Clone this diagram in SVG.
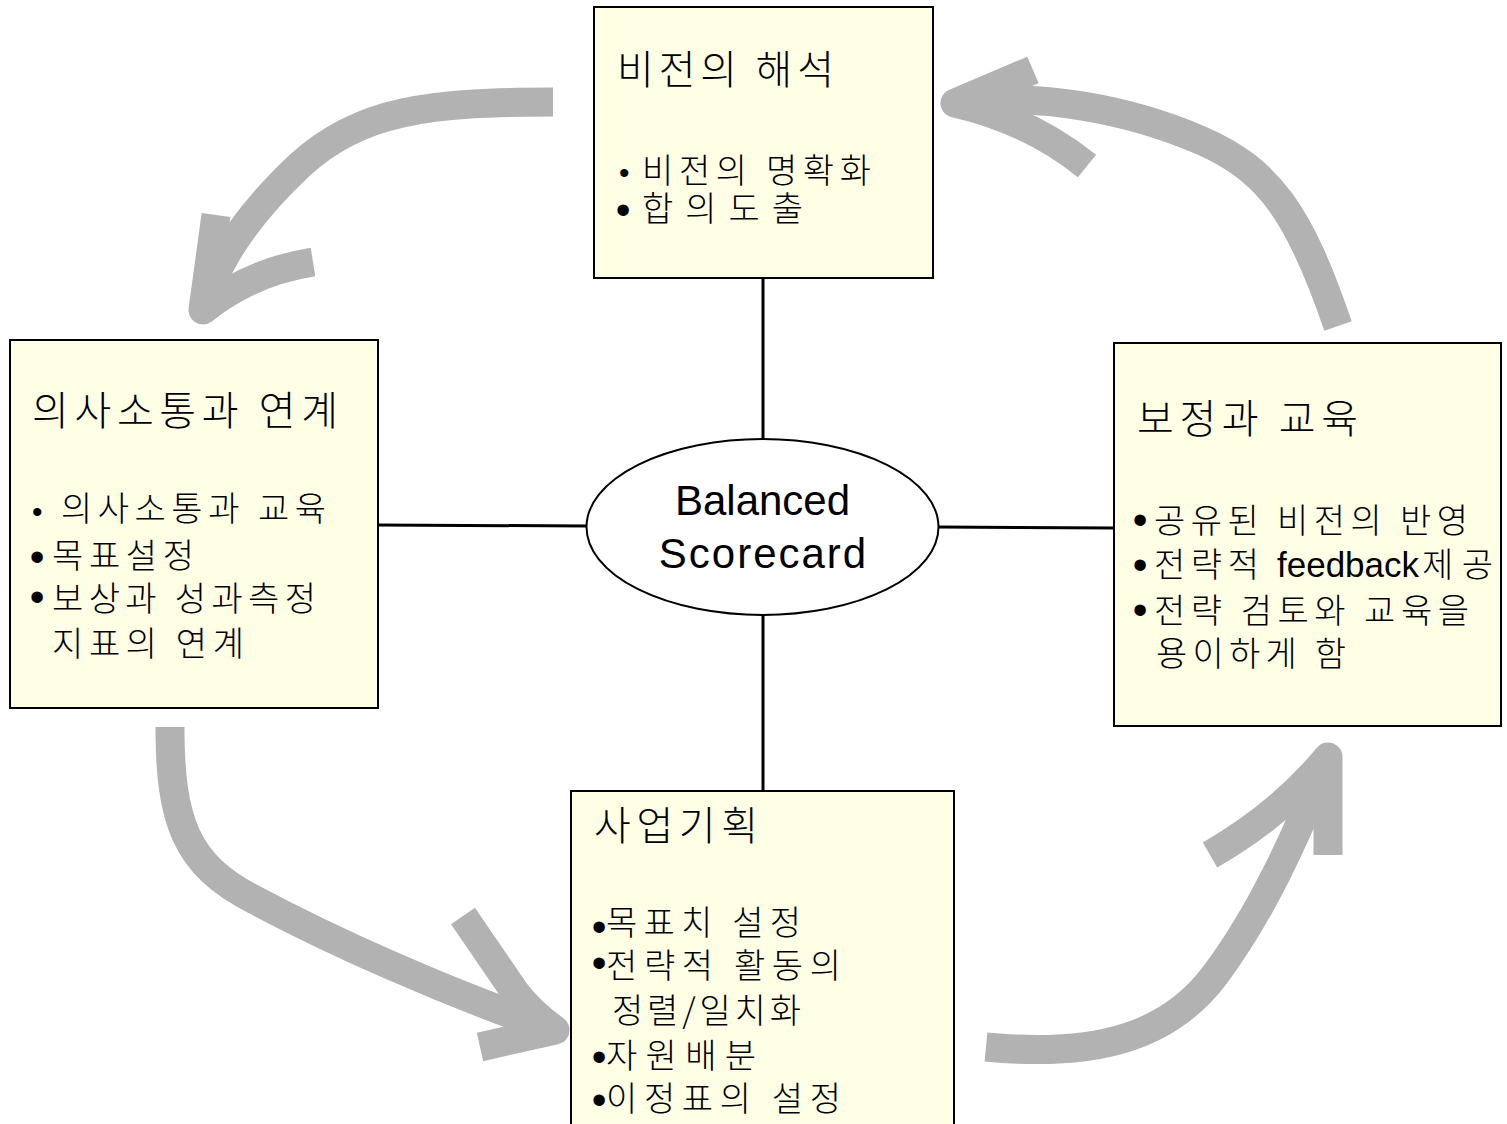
<svg xmlns="http://www.w3.org/2000/svg" width="1507" height="1124" viewBox="0 0 1507 1124">
  <defs>
    <style>
      .box { fill: #FFFFE6; stroke: #000; stroke-width: 2; }
      .link { stroke: #000; stroke-width: 3; fill: none; }
      .flow { fill: none; stroke: #B2B2B2; stroke-width: 29; stroke-linejoin: round; stroke-linecap: butt; }
      .ko { font-family: "Noto Sans CJK KR", "Noto Sans", sans-serif; font-weight: 300; fill: #000; }
      .title { font-size: 40px; }
      .body { font-size: 34px; }
      .bul { font-family: "Liberation Sans", Arial, sans-serif; font-weight: normal; font-size: 42px; }
      .bs { font-size: 30px; }
      .lat { font-family: "Liberation Sans", Arial, sans-serif; font-weight: normal; font-size: 35px; }
      .bsc { font-family: "Liberation Sans", Arial, sans-serif; font-size: 42px; fill: #000; text-anchor: middle; }
    </style>
  </defs>

  <rect x="0" y="0" width="1507" height="1124" fill="#fff"/>

  <g id="connectors">
    <!-- spokes from the hub to each box -->
    <line class="link" x1="763" y1="278" x2="763" y2="440"/>
    <line class="link" x1="763" y1="614" x2="763" y2="792"/>
    <line class="link" x1="378" y1="525" x2="587" y2="526"/>
    <line class="link" x1="938" y1="527" x2="1114" y2="528"/>

    <!-- cycle arrows -->
    <g id="flow-vision-to-communication">
      <path class="flow" d="M553,102 C430,102 360,110 300,165 C250,212 215,260 203,310"/>
      <path class="flow" d="M216,215 L203,310 Q250,272 313,262"/>
    </g>
    <g id="flow-communication-to-planning">
      <path class="flow" d="M170,727 C170,820 185,865 255,900 C330,940 440,990 555,1030"/>
      <path class="flow" d="M463,916 L515,992 Q530,1012 555,1030 L480,1047"/>
    </g>
    <g id="flow-planning-to-feedback">
      <path class="flow" d="M986,1047 C1100,1058 1170,1035 1215,975 C1260,915 1295,840 1328,757"/>
      <path class="flow" d="M1210,855 Q1280,815 1328,757 L1328,855"/>
    </g>
    <g id="flow-feedback-to-vision">
      <path class="flow" d="M1338,326 C1300,215 1270,170 1200,140 C1130,110 1040,92 955,103"/>
      <path class="flow" d="M1033,70 L955,103 Q1030,120 1087,166"/>
    </g>
  </g>

  <g id="node-vision">
    <rect class="box" x="594" y="7" width="339" height="271"/>
    <text class="ko title" x="617" y="84" textLength="217" lengthAdjust="spacing">비전의 해석</text>
    <text class="ko body"><tspan class="bul bs" x="619" y="183">•</tspan><tspan x="642" y="183" textLength="229" lengthAdjust="spacing">비전의 명확화</tspan></text>
    <text class="ko body"><tspan class="bul" x="615.7" y="224">•</tspan><tspan x="642" y="221" textLength="161" lengthAdjust="spacing">합의도출</tspan></text>
  </g>

  <g id="node-communication">
    <rect class="box" x="10" y="340" width="368" height="368"/>
    <text class="ko title" x="32" y="425" textLength="306" lengthAdjust="spacing">의사소통과 연계</text>
    <text class="ko body"><tspan class="bul bs" x="32" y="522">•</tspan><tspan x="61" y="521" textLength="265" lengthAdjust="spacing">의사소통과 교육</tspan></text>
    <text class="ko body"><tspan class="bul" x="29.7" y="571">•</tspan><tspan x="52" y="568" textLength="142" lengthAdjust="spacing">목표설정</tspan></text>
    <text class="ko body"><tspan class="bul" x="29.7" y="611">•</tspan><tspan x="52" y="611" textLength="264" lengthAdjust="spacing">보상과 성과측정</tspan></text>
    <text class="ko body" x="52" y="656" textLength="192" lengthAdjust="spacing">지표의 연계</text>
  </g>

  <g id="node-feedback">
    <rect class="box" x="1114" y="343" width="387" height="383"/>
    <text class="ko title" x="1137" y="433" textLength="221" lengthAdjust="spacing">보정과 교육</text>
    <text class="ko body"><tspan class="bul" x="1132.7" y="534">•</tspan><tspan x="1154" y="533" textLength="314" lengthAdjust="spacing">공유된 비전의 반영</tspan></text>
    <text class="ko body"><tspan class="bul" x="1132.7" y="579">•</tspan><tspan x="1154" y="577" textLength="105" lengthAdjust="spacing">전략적</tspan><tspan class="lat" x="1277">feedback</tspan><tspan x="1422" textLength="71" lengthAdjust="spacing">제공</tspan></text>
    <text class="ko body"><tspan class="bul" x="1132.7" y="624">•</tspan><tspan x="1154" y="623" textLength="315" lengthAdjust="spacing">전략 검토와 교육을</tspan></text>
    <text class="ko body" x="1156" y="666" textLength="190" lengthAdjust="spacing">용이하게 함</text>
  </g>

  <g id="node-planning">
    <rect class="box" x="571" y="791" width="383" height="360"/>
    <text class="ko title" x="594" y="840" textLength="164" lengthAdjust="spacing">사업기획</text>
    <text class="ko body"><tspan class="bul" x="591.7" y="941">•</tspan><tspan x="606" y="935" textLength="195" lengthAdjust="spacing">목표치 설정</tspan></text>
    <text class="ko body"><tspan class="bul" x="591.7" y="977">•</tspan><tspan x="606" y="978" textLength="235" lengthAdjust="spacing">전략적 활동의</tspan></text>
    <text class="ko body" x="612" y="1023" textLength="189" lengthAdjust="spacing">정렬/일치화</text>
    <text class="ko body"><tspan class="bul" x="591.7" y="1071">•</tspan><tspan x="606" y="1068" textLength="150" lengthAdjust="spacing">자원배분</tspan></text>
    <text class="ko body"><tspan class="bul" x="591.7" y="1114">•</tspan><tspan x="606" y="1111" textLength="235" lengthAdjust="spacing">이정표의 설정</tspan></text>
  </g>

  <g id="node-bsc">
    <ellipse cx="762.5" cy="527" rx="176" ry="88" fill="#fff" stroke="#000" stroke-width="2"/>
    <text class="bsc" x="762.5" y="515">Balanced</text>
    <text class="bsc" x="763.5" y="568" letter-spacing="2">Scorecard</text>
  </g>
</svg>
